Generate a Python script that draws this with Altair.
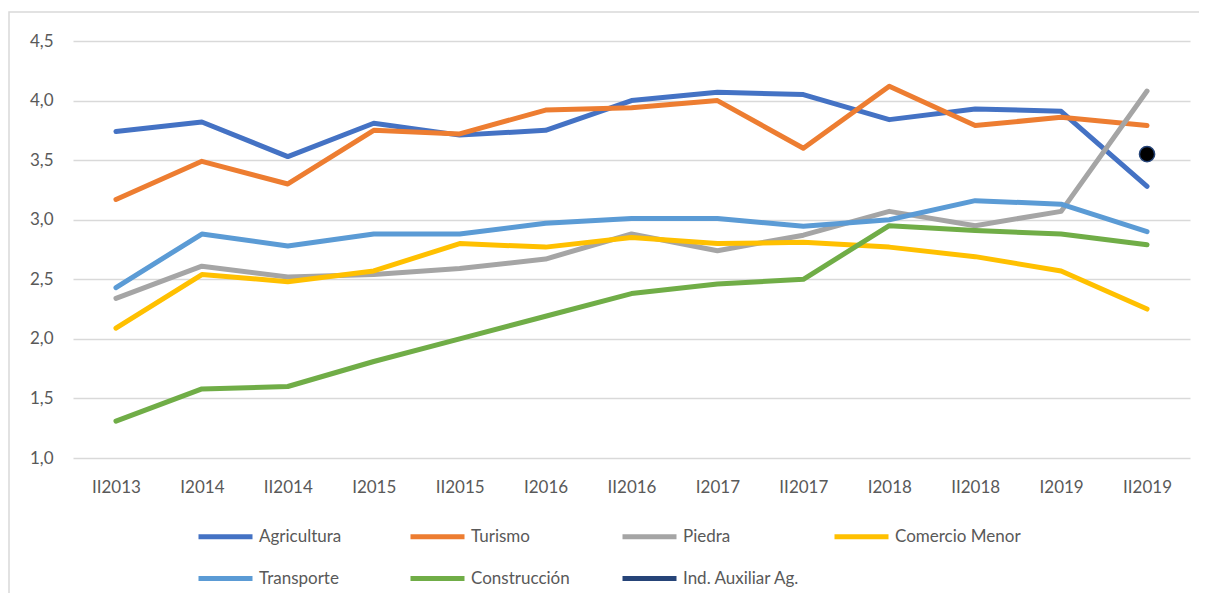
import altair as alt
import pandas as pd

periods = ["II2013", "I2014", "II2014", "I2015", "II2015", "I2016", "II2016",
           "I2017", "II2017", "I2018", "II2018", "I2019", "II2019"]

agricultura = [3.74, 3.82, 3.53, 3.81, 3.71, 3.75, 4.00, 4.07, 4.05, 3.84, 3.93, 3.91, 3.28]
turismo = [3.17, 3.49, 3.30, 3.75, 3.72, 3.92, 3.94, 4.00, 3.60, 4.12, 3.79, 3.86, 3.79]
piedra = [2.34, 2.61, 2.52, 2.54, 2.59, 2.67, 2.88, 2.74, 2.87, 3.07, 2.95, 3.07, 4.08]
comercio = [2.09, 2.54, 2.48, 2.57, 2.80, 2.77, 2.85, 2.80, 2.81, 2.77, 2.69, 2.57, 2.25]
transporte = [2.43, 2.88, 2.78, 2.88, 2.88, 2.97, 3.01, 3.01, 2.945, 3.00, 3.16, 3.13, 2.90]
construccion = [1.31, 1.58, 1.60, 1.81, 2.00, 2.19, 2.38, 2.46, 2.50, 2.95, 2.91, 2.88, 2.79]
ind_aux_period = ["II2019"]
ind_aux = [3.55]

series_names = ["Agricultura", "Turismo", "Piedra", "Comercio Menor",
                "Transporte", "Construcción", "Ind. Auxiliar Ag."]
series_colors = ["#4472C4", "#ED7D31", "#A5A5A5", "#FFC000",
                 "#5B9BD5", "#70AD47", "#264478"]

rows = []
for name, vals in zip(series_names[:6],
                      [agricultura, turismo, piedra, comercio, transporte, construccion]):
    for p, v in zip(periods, vals):
        rows.append({"periodo": p, "valor": v, "serie": name,
                     "orden": series_names.index(name)})
for p, v in zip(ind_aux_period, ind_aux):
    rows.append({"periodo": p, "valor": v, "serie": series_names[6], "orden": 6})
df = pd.DataFrame(rows)
df_point = df[df["serie"] == "Ind. Auxiliar Ag."]

FONT = "Lato"
GRAY = "#595959"

x_enc = alt.X("periodo:N", sort=periods, scale=alt.Scale(type="point", padding=0.5),
              axis=alt.Axis(title=None, labelAngle=0, labelFontSize=17, labelColor=GRAY,
                            labelFont=FONT, ticks=False, domain=False, grid=False,
                            labelPadding=21))
y_enc = alt.Y("valor:Q", scale=alt.Scale(domain=[1.0, 4.5], nice=False, zero=False),
              axis=alt.Axis(title=None, values=[1.0, 1.5, 2.0, 2.5, 3.0, 3.5, 4.0, 4.5],
                            labelExpr="replace(format(datum.value, '.1f'), '.', ',')",
                            labelFontSize=17, labelColor=GRAY, labelFont=FONT,
                            ticks=False, domain=False, gridColor="#D9D9D9",
                            gridWidth=1.3, labelPadding=20))

lines = alt.Chart(df).mark_line(strokeWidth=5, strokeCap="round", strokeJoin="round").encode(
    x=x_enc,
    y=y_enc,
    color=alt.Color("serie:N", sort=series_names,
                    scale=alt.Scale(domain=series_names, range=series_colors),
                    legend=alt.Legend(title=None, orient="none", legendX=123, legendY=466,
                                      direction="horizontal",
                                      columns=4, symbolType="stroke", symbolSize=2916,
                                      symbolStrokeWidth=5, labelFontSize=17,
                                      labelColor=GRAY, labelFont=FONT, labelOffset=4,
                                      columnPadding=15, rowPadding=2, gridAlign="all",
                                      labelLimit=300)),
    order=alt.Order("orden:Q"),
)

points = alt.Chart(df_point).mark_point(filled=True, size=230, fill="black",
                                        stroke="#264478", strokeWidth=1.5,
                                        opacity=1).encode(
    x=alt.X("periodo:N", sort=periods),
    y=alt.Y("valor:Q"),
)

frame = alt.Chart(pd.DataFrame({"a": [0]})).mark_rect(
    fill=None, stroke="#D9D9D9", strokeWidth=1.5, clip=False).encode(
    x=alt.value(-64), x2=alt.value(1140), y=alt.value(-29), y2=alt.value(570))

chart = alt.layer(frame, lines, points).properties(
    width=1117, height=417,
    autosize=alt.AutoSizeParams(type="none"),
    padding={"left": 65, "top": 33, "right": 9, "bottom": 135},
).configure_view(stroke=None)

chart.save("out.html", embed_options={"renderer": "svg", "actions": False})
